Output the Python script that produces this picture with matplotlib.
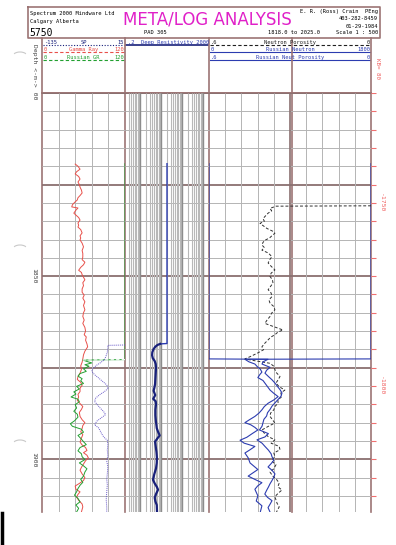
import matplotlib
matplotlib.use("Agg")
import matplotlib.pyplot as plt
import numpy as np
from matplotlib.patches import Arc

W, H = 396, 545
GRID_TOP, GRID_BOT = 93, 512
TOP_DEPTH, BASE_DEPTH = 1800.0, 1914.4
KB = 80

# ---- curve data (depth in m) ----
GR_DEPTH = [1819.4, 1820.0, 1820.8, 1821.5, 1822.1, 1822.8, 1823.5, 1824.3, 1825.0, 1825.7,
            1826.5, 1827.3, 1828.0, 1828.6, 1829.2, 1829.9, 1830.5, 1831.1, 1831.4, 1832.0,
            1832.8, 1833.5, 1834.0, 1834.7, 1835.5, 1836.1, 1836.6, 1837.3, 1838.2, 1839.0,
            1839.6, 1840.1, 1841.0, 1842.0, 1843.0, 1843.8, 1844.8, 1845.5, 1846.2, 1846.9,
            1847.6, 1848.4, 1849.0, 1849.6, 1850.3, 1851.0, 1851.8, 1852.6, 1853.5, 1854.4,
            1855.2, 1856.0, 1857.0, 1858.0, 1859.2, 1860.0, 1861.0, 1862.0, 1862.9, 1864.0,
            1865.0, 1866.0, 1866.6, 1867.5, 1868.5, 1869.3, 1870.5, 1871.5, 1872.6, 1873.5,
            1874.5, 1875.5, 1876.5, 1877.5, 1878.2, 1879.0, 1879.8, 1880.6, 1881.5, 1882.3,
            1883.0, 1883.9, 1884.8, 1885.6, 1886.4, 1887.2, 1888.3, 1889.2, 1890.0, 1890.8,
            1891.6, 1892.5, 1893.3, 1894.2, 1895.3, 1896.1, 1896.8, 1897.6, 1898.2, 1898.9,
            1899.6, 1900.4, 1901.3, 1902.2, 1903.0, 1904.0, 1905.0, 1905.8, 1906.6, 1907.3,
            1908.2, 1908.9, 1909.6, 1910.3, 1911.2, 1912.2, 1913.0, 1914.4]
GR_API = [48, 52, 55, 50, 48, 53, 55, 52, 54, 55,
          57, 58, 55, 52, 51, 47, 44, 43, 52, 49,
          46, 50, 53, 55, 52, 53, 52, 56, 58, 55,
          56, 55, 58, 60, 58, 59, 59, 58, 62, 60,
          56, 53, 57, 58, 60, 62, 59, 60, 58, 58,
          61, 59, 62, 60, 62, 60, 59, 61, 59, 62,
          63, 61, 64, 63, 65, 66, 62, 60, 59, 58,
          56, 57, 55, 52, 51, 56, 58, 55, 55, 52,
          53, 51, 55, 59, 57, 54, 55, 58, 62, 59,
          58, 56, 59, 57, 55, 58, 63, 65, 60, 65,
          67, 63, 60, 57, 55, 58, 62, 60, 54, 48,
          49, 55, 52, 50, 53, 58, 59, 57]

RGR_DEPTH = [1819.3, 1872.8, 1872.9, 1873.3, 1873.7, 1874.2, 1874.6, 1875.3, 1876.0, 1876.6,
             1877.3, 1878.0, 1878.6, 1879.3, 1880.1, 1880.8, 1881.6, 1882.2, 1883.0, 1883.6,
             1884.3, 1885.1, 1886.0, 1886.9, 1887.7, 1888.5, 1889.5, 1890.3, 1891.0, 1891.8,
             1892.6, 1893.5, 1894.3, 1895.2, 1896.0, 1896.8, 1897.7, 1898.5, 1899.3, 1900.1,
             1901.0, 1901.8, 1902.6, 1903.5, 1904.6, 1905.5, 1906.3, 1907.1, 1908.0, 1908.9,
             1909.8, 1910.7, 1911.6, 1912.5, 1913.4, 1914.4]
RGR_API = [120, 120, 59, 65, 72, 62, 68, 60, 64, 55,
           52, 58, 56, 60, 50, 54, 46, 49, 42, 52,
           54, 48, 50, 46, 51, 52, 47, 41, 44, 57,
           60, 52, 56, 60, 64, 55, 52, 57, 58, 62,
           54, 60, 65, 62, 60, 56, 59, 55, 52, 50,
           47, 52, 55, 49, 53, 50]

SP_DEPTH = [1868.8, 1868.9, 1869.8, 1870.8, 1871.7, 1872.8, 1873.6, 1874.4, 1875.2, 1876.0,
            1876.9, 1877.9, 1878.8, 1879.7, 1880.6, 1881.5, 1882.4, 1883.3, 1884.2, 1885.1,
            1886.0, 1886.9, 1887.8, 1888.7, 1889.6, 1890.6, 1891.4, 1892.2, 1893.1, 1894.0,
            1894.8, 1896.0, 1897.5, 1899.0, 1900.5, 1902.0, 1904.0, 1905.5, 1907.0, 1909.0,
            1911.0, 1913.0, 1914.4]
SP_MV = [15, -16, -16, -17, -19, -22, -29, -37, -43, -45,
         -40, -32, -25, -18, -15, -22, -31, -38, -40, -35,
         -30, -24, -20, -28, -36, -40, -33, -30, -27, -23,
         -17, -16, -17, -16, -18, -16, -17, -18, -17, -18,
         -19, -18, -18]

RES_DEPTH = [1819.3, 1868.4, 1868.5, 1868.8, 1869.3, 1870.0, 1870.8, 1871.6, 1872.4, 1873.2,
             1874.0, 1875.0, 1876.5, 1878.0, 1879.5, 1880.5, 1881.3, 1882.5, 1883.5, 1884.2,
             1885.0, 1886.5, 1888.0, 1889.5, 1890.5, 1891.5, 1892.5, 1893.5, 1894.3, 1895.2,
             1896.5, 1898.0, 1899.5, 1901.0, 1902.5, 1904.0, 1905.6, 1906.6, 1907.5, 1908.3,
             1909.5, 1910.5, 1911.5, 1912.5, 1914.4]
RES_OHMM = [20, 20, 9.5, 7.0, 5.5, 4.5, 4.0, 3.9, 4.2, 5.2,
            5.8, 6.0, 5.8, 5.6, 5.4, 5.0, 4.6, 5.5, 4.4, 5.8,
            6.0, 5.6, 5.6, 5.9, 6.2, 6.5, 7.5, 9.0, 7.0, 5.4,
            5.8, 6.3, 6.6, 6.5, 6.0, 5.0, 4.3, 5.2, 6.5, 7.5,
            6.0, 5.2, 5.6, 6.5, 6.7]

NPHI_DEPTH = [1830.8, 1830.9, 1831.5, 1832.2, 1832.8, 1833.5, 1834.3, 1835.0, 1835.6, 1836.2,
              1837.0, 1837.8, 1838.3, 1838.9, 1839.6, 1840.2, 1840.8, 1841.5, 1842.2, 1842.9,
              1843.7, 1844.7, 1845.5, 1846.4, 1847.3, 1848.3, 1849.2, 1850.1, 1851.0, 1851.9,
              1852.8, 1853.7, 1854.6, 1855.6, 1856.5, 1857.4, 1858.3, 1859.2, 1860.1, 1861.0,
              1862.0, 1862.9, 1863.8, 1864.7, 1865.3, 1866.0, 1866.7, 1867.4, 1868.3, 1869.3,
              1870.1, 1871.0, 1872.0, 1872.6, 1873.1, 1873.8, 1874.6, 1875.5, 1876.4, 1877.4,
              1878.3, 1879.2, 1880.2, 1881.1, 1881.9, 1882.9, 1883.8, 1884.7, 1885.6, 1886.5,
              1887.4, 1888.3, 1889.2, 1890.1, 1891.0, 1892.0, 1892.9, 1893.8, 1894.7, 1895.6,
              1896.5, 1897.4, 1898.3, 1899.2, 1900.5, 1901.5, 1902.6, 1903.5, 1904.5, 1905.5,
              1906.5, 1907.5, 1908.4, 1909.3, 1910.2, 1911.1, 1912.0, 1913.0, 1914.4]
NPHI = [0.0, 0.352, 0.374, 0.368, 0.381, 0.390, 0.400, 0.395, 0.411, 0.400,
        0.385, 0.362, 0.356, 0.366, 0.376, 0.393, 0.400, 0.404, 0.395, 0.404,
        0.380, 0.367, 0.375, 0.381, 0.370, 0.356, 0.370, 0.374, 0.365, 0.363,
        0.372, 0.381, 0.370, 0.367, 0.378, 0.374, 0.360, 0.356, 0.368, 0.374,
        0.385, 0.393, 0.360, 0.326, 0.345, 0.356, 0.372, 0.381, 0.393, 0.404,
        0.398, 0.420, 0.448, 0.467, 0.430, 0.374, 0.360, 0.356, 0.350, 0.337,
        0.344, 0.352, 0.340, 0.319, 0.334, 0.330, 0.345, 0.344, 0.356, 0.360,
        0.372, 0.374, 0.365, 0.356, 0.380, 0.404, 0.395, 0.381, 0.356, 0.370,
        0.340, 0.337, 0.360, 0.356, 0.367, 0.352, 0.360, 0.374, 0.365, 0.350,
        0.340, 0.345, 0.330, 0.344, 0.356, 0.352, 0.348, 0.340, 0.350]

RNPHI_DEPTH = [1819.3, 1872.6, 1872.7, 1873.4, 1874.0, 1874.8, 1875.4, 1876.2, 1876.9, 1877.7,
               1878.5, 1879.2, 1880.0, 1881.1, 1882.0, 1882.9, 1883.8, 1884.7, 1885.6, 1886.5,
               1887.4, 1888.3, 1889.2, 1890.0, 1890.6, 1891.3, 1892.0, 1893.0, 1894.0, 1894.8,
               1895.6, 1896.5, 1897.5, 1898.3, 1899.6, 1901.0, 1902.8, 1904.6, 1905.5, 1906.4,
               1907.3, 1908.2, 1910.0, 1911.4, 1912.7, 1914.4]
RNPHI = [0.0, 0.0, 0.467, 0.452, 0.430, 0.420, 0.410, 0.404, 0.412, 0.419,
         0.400, 0.393, 0.385, 0.374, 0.360, 0.344, 0.360, 0.381, 0.395, 0.404,
         0.415, 0.430, 0.450, 0.467, 0.445, 0.430, 0.419, 0.440, 0.460, 0.485,
         0.470, 0.430, 0.450, 0.467, 0.455, 0.448, 0.419, 0.455, 0.430, 0.404,
         0.420, 0.430, 0.419, 0.425, 0.404, 0.410]

RNEUT_DEPTH = [1819.3, 1872.6, 1872.7, 1873.4, 1874.0, 1874.9, 1875.7, 1876.5, 1877.4, 1878.3,
               1879.2, 1880.1, 1881.0, 1881.9, 1882.8, 1883.7, 1884.6, 1885.5, 1886.4, 1887.3,
               1888.2, 1889.1, 1890.0, 1891.0, 1892.0, 1893.0, 1893.9, 1894.7, 1895.6, 1896.5,
               1897.5, 1898.5, 1899.3, 1900.3, 1901.2, 1902.1, 1903.0, 1904.0, 1904.9, 1905.8,
               1906.7, 1907.6, 1908.5, 1909.5, 1910.4, 1911.3, 1912.2, 1913.2, 1914.4]
RNEUT = [0, 0, 656, 600, 589, 678, 640, 622, 660, 700,
         733, 760, 789, 811, 800, 767, 733, 700, 678, 650,
         640, 610, 600, 589, 560, 660, 622, 533, 589, 622,
         660, 690, 700, 720, 690, 656, 700, 733, 720, 700,
         678, 660, 640, 620, 650, 700, 680, 656, 678]

DEPTH_LABELS = [1800, 1850, 1900]
SUBSEA_LABELS = [1750, 1800]

FRAME = "#9c7474"
GRID = "#b4b4b4"
GRID_DARK = "#8a7070"
RED = "#e8504a"
GREEN = "#22a030"
PURPLE = "#6a5ac8"
NAVY = "#18207a"
BLUE = "#2c3cb0"
MONO = "DejaVu Sans Mono"


def frac(x0, y0, x1, y1):
    return [x0 / W, 1 - y1 / H, (x1 - x0) / W, (y1 - y0) / H]


def track(x0, x1, xlim, log=False):
    ax = fig.add_axes(frac(x0, GRID_TOP, x1, GRID_BOT))
    if log:
        ax.set_xscale("log")
    ax.set_xlim(*xlim)
    ax.set_ylim(BASE_DEPTH, TOP_DEPTH)
    ax.axis("off")
    return ax


fig = plt.figure(figsize=(W / 100, H / 100), dpi=100)
fig.patch.set_facecolor("white")

page = fig.add_axes([0, 0, 1, 1])
page.set_xlim(0, W)
page.set_ylim(H, 0)
page.axis("off")

depths = np.arange(1800, 1915, 5)

# track axes
ax_gr = track(42, 125, (0, 120))
ax_sp = track(42, 125, (-135, 15))
ax_res = track(125, 209, (0.2, 2000), log=True)
ax_np = track(209, 371, (0.6, 0.0))
ax_rn = track(209, 371, (0, 1800))

# grids
for ax, x0, x1 in [(ax_gr, 0, 120), (ax_res, 0.2, 2000), (ax_np, 0.6, 0.0)]:
    for d in depths:
        thick = d % 25 == 0
        ax.hlines(d, x0, x1, color=GRID_DARK if thick else GRID,
                  lw=1.3 if thick else 0.7, zorder=1)

ax_gr.vlines([24, 48, 72, 96], TOP_DEPTH, BASE_DEPTH, color=GRID, lw=0.7, zorder=1)
ax_np.vlines([0.54, 0.48, 0.42, 0.36, 0.24, 0.18, 0.12, 0.06], TOP_DEPTH, BASE_DEPTH,
             color=GRID, lw=0.7, zorder=1)
ax_np.vlines([0.3], TOP_DEPTH, BASE_DEPTH, color=GRID_DARK, lw=1.2, zorder=1)
log_lines = [m * 10.0 ** e for e in range(-1, 4) for m in range(1, 10)]
log_lines = [v for v in log_lines if 0.2 < v < 2000]
for v in log_lines:
    major = abs(np.log10(v) - round(np.log10(v))) < 1e-9
    ax_res.vlines(v, TOP_DEPTH, BASE_DEPTH, color="#8c8c8c" if major else "#b8b8b8",
                  lw=1.0 if major else 0.8, zorder=1)

# curves
ax_gr.plot(GR_API, GR_DEPTH, color=RED, lw=0.7, zorder=4)
ax_gr.plot(RGR_API, RGR_DEPTH, color=GREEN, lw=0.7, zorder=4)
ax_gr.plot(RGR_API[1:3], RGR_DEPTH[1:3], color="white", lw=0.8, ls=(0, (3, 2)), zorder=4)
ax_sp.plot(SP_MV, SP_DEPTH, color=PURPLE, lw=0.7, ls=(0, (1, 1)), zorder=4)
ax_res.plot(RES_OHMM[:3], RES_DEPTH[:3], color=BLUE, lw=1.0, zorder=4)
ax_res.plot(RES_OHMM[2:], RES_DEPTH[2:], color=NAVY, lw=1.6, zorder=4)
ax_rn.plot(RNEUT, RNEUT_DEPTH, color=BLUE, lw=0.8, zorder=4)
ax_np.plot(RNPHI, RNPHI_DEPTH, color=BLUE, lw=0.8, zorder=4)
ax_np.plot(NPHI, NPHI_DEPTH, color="#303030", lw=0.7, ls=(0, (3, 2)), zorder=5)

# frame lines
for x in [42, 125, 209, 371]:
    page.plot([x, x], [38, GRID_BOT], color=FRAME, lw=1.2, zorder=3)
page.plot([292, 292], [38, GRID_BOT], color=FRAME, lw=1.2, zorder=3)
page.plot([42, 371], [GRID_TOP, GRID_TOP], color=FRAME, lw=1.4, zorder=3)
page.plot([28, 380, 380, 28, 28], [7, 7, 38, 38, 7], color=FRAME, lw=1.2)

# header box text
page.text(30, 14, "Spectrum 2000 Mindware Ltd", fontsize=3.9, family=MONO, va="center")
page.text(30, 21, "Calgary Alberta", fontsize=3.9, family=MONO, va="center")
page.text(29, 33, "5750", fontsize=7, family=MONO, va="center")
page.text(207, 20, "META/LOG ANALYSIS", fontsize=12, color="#e020c8", ha="center",
          va="center", family="DejaVu Sans")
page.text(155, 33, "PAD 305", fontsize=3.9, family=MONO, ha="center", va="center")
page.text(294, 33, "1818.0 to 2025.0", fontsize=3.9, family=MONO, ha="center", va="center")
page.text(378, 12, "E. R. (Ross) Crain  PEng", fontsize=3.9, family=MONO, ha="right", va="center")
page.text(378, 19, "403-282-8459", fontsize=3.9, family=MONO, ha="right", va="center")
page.text(378, 26, "01-29-1984", fontsize=3.9, family=MONO, ha="right", va="center")
page.text(378, 33, "Scale 1 : 500", fontsize=3.9, family=MONO, ha="right", va="center")

# curve headers
hdr = [
    (42, 125, 45, "-135", "SP", "15", NAVY, (0, (1, 1.5))),
    (42, 125, 52, "0", "Gamma Ray", "120", RED, (0, (3, 2))),
    (42, 125, 60, "0", "Russian GR", "120", GREEN, (0, (3, 2))),
    (209, 371, 45, ".6", "Neutron Porosity", "0", "#202020", (0, (3, 2))),
    (209, 371, 52, "0", "Russian Neutron", "1800", BLUE, "-"),
    (209, 371, 60, ".6", "Russian Neut Porosity", "0", BLUE, "-"),
]
for x0, x1, y, left, name, right, col, ls in hdr:
    page.plot([x0 + 1, x1 - 1], [y, y], color=col, lw=0.8, ls=ls)
    page.text(x0 + 2, y, left, fontsize=3.9, family=MONO, color=col, va="bottom")
    page.text((x0 + x1) / 2, y, name, fontsize=3.9, family=MONO, color=col, ha="center", va="bottom")
    page.text(x1 - 1, y, right, fontsize=3.9, family=MONO, color=col, ha="right", va="bottom")
page.plot([126, 208], [45, 45], color=NAVY, lw=1.2)
page.text(128, 45, ".2  Deep Resistivity 2000", fontsize=3.9, family=MONO, color=BLUE,
          va="bottom", clip_on=True)

# depth column
page.text(34, 65, "Depth <-m->", fontsize=4.6, family=MONO, rotation=-90,
          ha="center", va="center", color="#404040")
ax_dep = fig.add_axes(frac(26, GRID_TOP, 42, GRID_BOT))
ax_dep.set_xlim(0, 1)
ax_dep.set_ylim(BASE_DEPTH, TOP_DEPTH)
ax_dep.axis("off")
for d in DEPTH_LABELS:
    ax_dep.text(0.5, d, str(d), fontsize=4.6, family=MONO, rotation=-90, ha="center",
                va="center", color="#404040", clip_on=True)

# subsea ticks on right edge
ax_ss = fig.add_axes(frac(371, GRID_TOP, 392, GRID_BOT))
ax_ss.set_xlim(0, 21)
ax_ss.set_ylim(BASE_DEPTH, TOP_DEPTH)
ax_ss.axis("off")
ax_ss.hlines(depths, 0, 5, color="#f07070", lw=0.8)
for s in SUBSEA_LABELS:
    ax_ss.text(10, s + KB, f"-{s}", fontsize=4.6, family=MONO, rotation=-90, ha="center",
               va="center", color="#f06060")
page.text(377, 68, "KB= 80", fontsize=4.2, family=MONO, rotation=-90, ha="center",
          va="center", color="#f06060")

# hole punches and scan edge
for yc in [52, 245, 440]:
    page.add_patch(Arc((20, yc + 4), 14, 8, theta1=200, theta2=340, color="#c8c8c8", lw=0.8))
page.plot([1.5, 1.5], [GRID_BOT + 1, H], color="black", lw=2.5)

fig.savefig("out.png", dpi=100)
